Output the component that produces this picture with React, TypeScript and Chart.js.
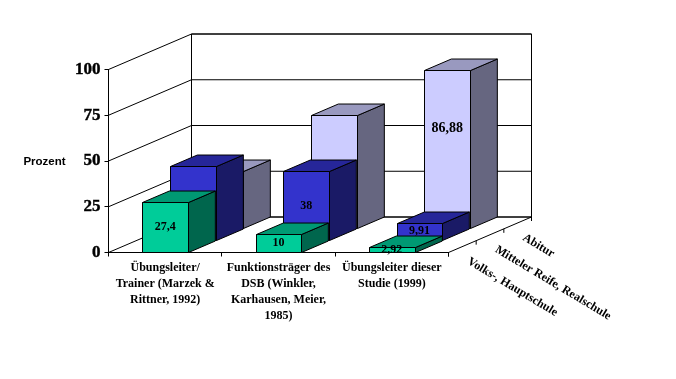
import React, { useEffect, useRef } from "react";
import { Chart, registerables } from "chart.js";

Chart.register(...registerables);

const categories = [
  ["Übungsleiter/", "Trainer (Marzek &", "Rittner, 1992)"],
  ["Funktionsträger des", "DSB (Winkler,", "Karhausen, Meier,", "1985)"],
  ["Übungsleiter dieser", "Studie (1999)"],
];
const seriesNames = ["Volks-, Hauptschule", "Mitteler Reife, Realschule", "Abitur"];
const volksValues = [27.4, 10, 2.92];
const mittlereValues = [40.6, 38, 9.91];
const abiturValues = [31.5, 62, 86.88];
const volksLabels = ["27,4", "10", "2,92"];
const mittlereLabels = ["", "38", "9,91"];
const abiturLabels = ["", "", "86,88"];
const yTicks = [0, 25, 50, 75, 100];

const seriesFaces = [
  { front: "#00CC99", top: "#009973", side: "#00664D" },
  { front: "#3333CC", top: "#262699", side: "#1A1A66" },
  { front: "#CCCCFF", top: "#9999BF", side: "#666680" },
];
const seriesLabelTexts = [volksLabels, mittlereLabels, abiturLabels];

const DEPTH_X = 83;
const DEPTH_Y = -35.5;
const SLOTS = 3;
const SLOT_X = DEPTH_X / SLOTS;
const SLOT_Y = DEPTH_Y / SLOTS;
const BAR_DEPTH = 0.97;
const LARGE_LABEL_LIFT = 21;
const SERIF = '"Liberation Serif", "Times New Roman", serif';

function poly(ctx: CanvasRenderingContext2D, pts: number[][], fill?: string) {
  ctx.beginPath();
  pts.forEach(([x, y], i) => (i ? ctx.lineTo(x, y) : ctx.moveTo(x, y)));
  ctx.closePath();
  if (fill) {
    ctx.fillStyle = fill;
    ctx.fill();
  }
  ctx.stroke();
}

function line(ctx: CanvasRenderingContext2D, x0: number, y0: number, x1: number, y1: number) {
  ctx.beginPath();
  ctx.moveTo(x0, y0);
  ctx.lineTo(x1, y1);
  ctx.stroke();
}

const walls3d = {
  id: "walls3d",
  beforeDatasetsDraw(chart: any) {
    const { ctx, chartArea: a, scales } = chart;
    const y = scales.y;
    ctx.save();
    ctx.strokeStyle = "#000";
    ctx.lineWidth = 1;
    const yTop = y.getPixelForValue(100);
    const yBase = y.getPixelForValue(0);
    // back wall
    poly(ctx, [
      [a.left + DEPTH_X, yTop + DEPTH_Y],
      [a.right + DEPTH_X, yTop + DEPTH_Y],
      [a.right + DEPTH_X, yBase + DEPTH_Y],
      [a.left + DEPTH_X, yBase + DEPTH_Y],
    ]);
    // grid on the left and back walls
    yTicks.forEach((v) => {
      const p = y.getPixelForValue(v);
      line(ctx, a.left, p, a.left + DEPTH_X, p + DEPTH_Y);
      line(ctx, a.left + DEPTH_X, p + DEPTH_Y, a.right + DEPTH_X, p + DEPTH_Y);
    });
    // floor right edge with depth ticks
    line(ctx, a.right, yBase, a.right + DEPTH_X, yBase + DEPTH_Y);
    for (let i = 0; i <= SLOTS; i++) {
      const tx = a.right + SLOT_X * i;
      const ty = yBase + SLOT_Y * i;
      line(ctx, tx, ty, tx, ty + 4);
    }
    // series names along the depth axis
    ctx.fillStyle = "#000";
    ctx.font = `bold 12px ${SERIF}`;
    ctx.textAlign = "left";
    ctx.textBaseline = "middle";
    chart.data.datasets.forEach((ds: any, i: number) => {
      ctx.save();
      ctx.translate(a.right + SLOT_X * (i + 0.5) + 6, yBase + SLOT_Y * (i + 0.5) + 14);
      ctx.rotate((31 * Math.PI) / 180);
      ctx.fillText(ds.label, 0, 0);
      ctx.restore();
    });
    // y axis caption
    ctx.font = 'bold 11.5px "Liberation Sans", Arial, sans-serif';
    ctx.textAlign = "center";
    ctx.fillText("Prozent", 44.5, 162);
    ctx.restore();
  },
};

const prisms3d = {
  id: "prisms3d",
  beforeDatasetDraw(chart: any, args: any) {
    const { ctx } = chart;
    const i = args.index;
    const faces = seriesFaces[i];
    const dx = SLOT_X * i;
    const dy = SLOT_Y * i;
    const bx = SLOT_X * BAR_DEPTH;
    const by = SLOT_Y * BAR_DEPTH;
    ctx.save();
    ctx.strokeStyle = "#000";
    ctx.lineWidth = 1;
    args.meta.data.forEach((el: any) => {
      const p = el.getProps(["x", "y", "base", "width"], true);
      const l = Math.round(p.x - p.width / 2 + dx) + 0.5;
      const r = Math.round(p.x + p.width / 2 + dx) + 0.5;
      const t = Math.round(p.y + dy) + 0.5;
      const b = Math.round(p.base + dy) + 0.5;
      poly(ctx, [[r, t], [r + bx, t + by], [r + bx, b + by], [r, b]], faces.side);
      poly(ctx, [[l, t], [l + bx, t + by], [r + bx, t + by], [r, t]], faces.top);
      poly(ctx, [[l, t], [r, t], [r, b], [l, b]], faces.front);
    });
    ctx.restore();
    return false;
  },
  afterDatasetsDraw(chart: any) {
    const { ctx } = chart;
    ctx.save();
    ctx.fillStyle = "#000";
    ctx.textAlign = "center";
    ctx.textBaseline = "middle";
    chart.data.datasets.forEach((_: any, i: number) => {
      const meta = chart.getDatasetMeta(i);
      meta.data.forEach((el: any, k: number) => {
        const text = seriesLabelTexts[i][k];
        if (!text) return;
        const large = text.length > 4;
        const p = el.getProps(["x", "y", "base"], true);
        ctx.font = `bold ${large ? 14 : 12}px ${SERIF}`;
        const cy = (p.y + p.base) / 2 + SLOT_Y * i - (large ? LARGE_LABEL_LIFT : 0);
        ctx.fillText(text, p.x + SLOT_X * i, cy);
      });
    });
    ctx.restore();
  },
};

export default function App() {
  const ref = useRef<HTMLCanvasElement>(null);
  useEffect(() => {
    const bar = { grouped: false, categoryPercentage: 1, barPercentage: 0.405 };
    const chart = new Chart(ref.current as HTMLCanvasElement, {
      type: "bar",
      data: {
        labels: categories,
        datasets: [
          { label: seriesNames[0], data: volksValues, backgroundColor: seriesFaces[0].front, ...bar },
          { label: seriesNames[1], data: mittlereValues, backgroundColor: seriesFaces[1].front, ...bar },
          { label: seriesNames[2], data: abiturValues, backgroundColor: seriesFaces[2].front, ...bar },
        ],
      } as any,
      options: {
        responsive: false,
        animation: false,
        events: [],
        layout: { padding: { left: 0, right: 227.5, top: 69.5, bottom: 0 } },
        plugins: { legend: { display: false }, tooltip: { enabled: false }, title: { display: false } },
        scales: {
          x: {
            afterFit(s: any) {
              s.height = 126.5;
            },
            border: { color: "#000", width: 1 },
            grid: { drawOnChartArea: false, drawTicks: true, tickLength: 4, color: "#000", lineWidth: 1 },
            ticks: {
              autoSkip: false,
              maxRotation: 0,
              minRotation: 0,
              color: "#000",
              padding: 3,
              font: { family: SERIF, size: 12, weight: "bold", lineHeight: 1.333 },
            },
          },
          y: {
            min: 0,
            max: 100,
            afterFit(s: any) {
              s.width = 108.5;
            },
            afterBuildTicks(s: any) {
              s.ticks = yTicks.map((value) => ({ value }));
            },
            border: { color: "#000", width: 1 },
            grid: { drawOnChartArea: false, drawTicks: true, tickLength: 4, color: "#000", lineWidth: 1 },
            ticks: {
              color: "#000",
              padding: 4,
              textStrokeColor: "#000",
              textStrokeWidth: 0.4,
              font: { family: SERIF, size: 17, weight: "bold" },
            },
          },
        },
      } as any,
      plugins: [walls3d, prisms3d],
    });
    return () => chart.destroy();
  }, []);
  return (
    <div style={{ position: "absolute", left: 0, top: 0, width: 676, height: 379, background: "#fff" }}>
      <canvas ref={ref} width={676} height={379} style={{ display: "block" }} />
    </div>
  );
}
